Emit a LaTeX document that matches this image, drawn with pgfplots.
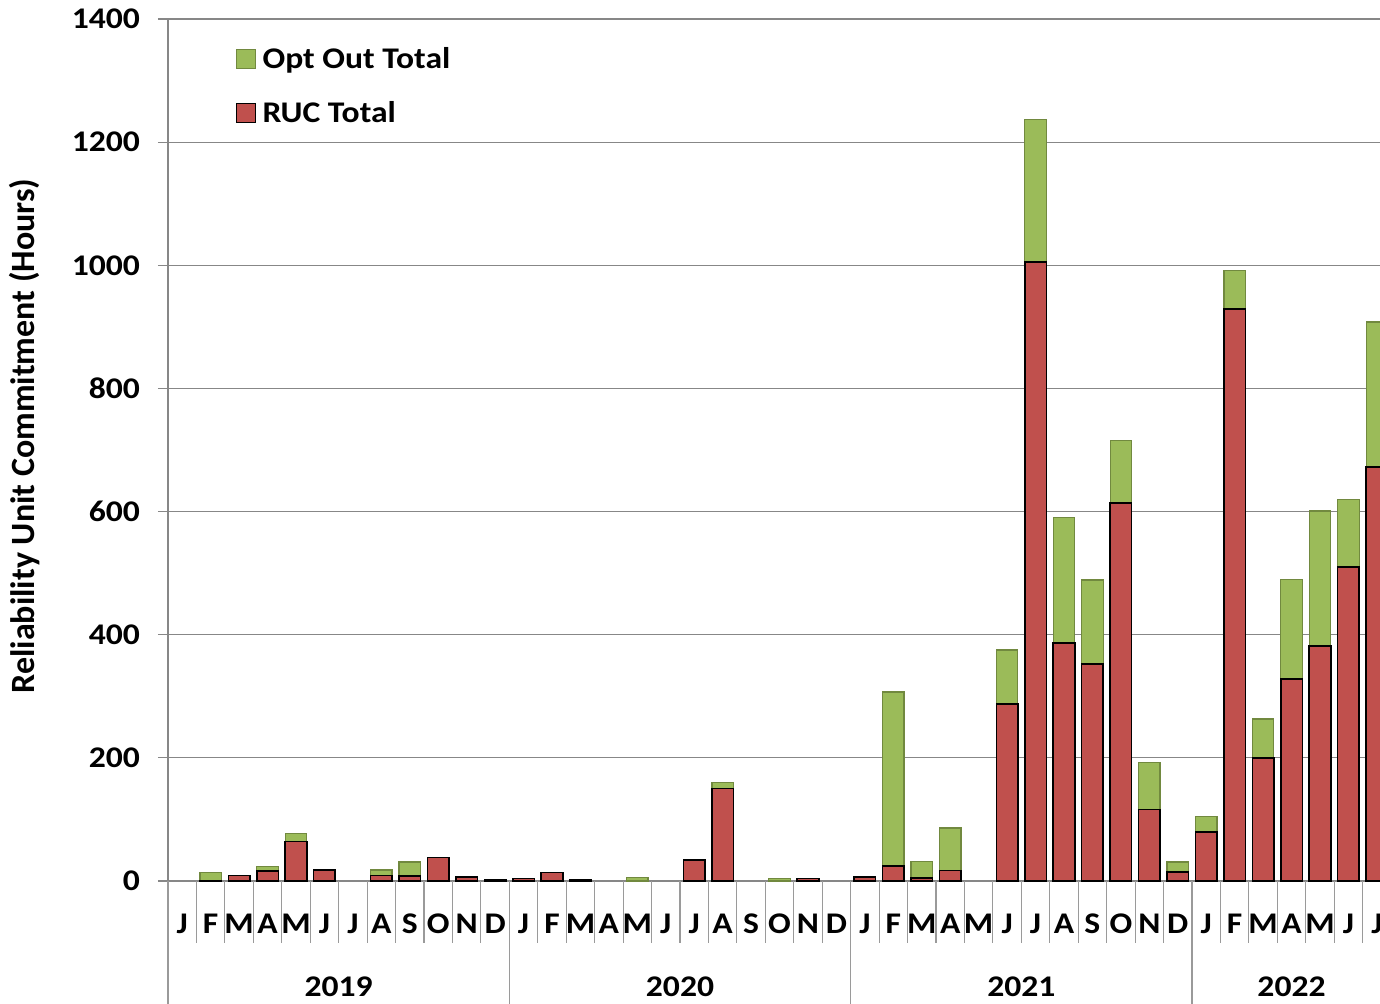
\documentclass[border=0pt]{standalone}
\usepackage{fontspec}
\setmainfont{Carlito}[FakeStretch=1.12]
\newfontfamily\ylabfont{Carlito}
\usepackage{pgfplots}
\usepackage{pgfplotstable}
\pgfplotsset{compat=1.18}
\definecolor{rucred}{HTML}{C0504D}
\definecolor{optgreen}{HTML}{9BBB59}
\definecolor{optborder}{HTML}{71893F}
\definecolor{gridgray}{HTML}{878787}
\definecolor{sepgray}{HTML}{9A9A9A}
\newcommand\lab{\fontsize{15pt}{18pt}\selectfont\bfseries}
% idx = month index from Jan 2019; ruc = RUC Total; opt = Opt Out Total (hours)
\pgfplotstableread{
idx ruc opt
0 0 0
1 1 13
2 9 0
3 16 7
4 64 13
5 18 0
6 0 0
7 9 9
8 8 23
9 38 0
10 6 0
11 2 0
12 4 0
13 14 0
14 2 0
15 0 0
16 0 6
17 0 0
18 34 0
19 150 10
20 0 0
21 0 4
22 4 0
23 0 0
24 6 0
25 24 283
26 5 27
27 17 69
28 0 0
29 287 88
30 1005 232
31 387 203
32 352 137
33 614 102
34 116 76
35 15 16
36 80 25
37 929 63
38 200 63
39 328 162
40 382 219
41 510 109
42 672 236
}\data
\begin{document}
\begin{tikzpicture}
\path[use as bounding box] (-84pt,-61.5pt) rectangle (606pt,440.5pt);
\begin{axis}[
  at={(0,0)}, anchor=south west,
  scale only axis, width=606pt, height=431pt,
  xmin=-0.5, xmax=42.11, ymin=0, ymax=1400,
  clip=false,
  axis x line*=bottom, axis y line*=left,
  axis line style={gridgray, line width=0.7pt},
  ytick={0,200,...,1400},
  ymajorgrids, grid style={gridgray, line width=0.6pt},
  tick align=outside, major tick length=5pt,
  y tick style={gridgray, line width=0.6pt},
  x tick style={draw=none},
  xtick={0,...,42},
  xticklabels={J,F,M,A,M,J,J,A,S,O,N,D,J,F,M,A,M,J,J,A,S,O,N,D,J,F,M,A,M,J,J,A,S,O,N,D,J,F,M,A,M,J,J},
  xticklabel style={font=\lab, anchor=center, yshift=-16.5pt},
  yticklabel style={font=\lab, xshift=-5.5pt},
  /pgf/number format/assume math mode=true,
  /pgf/number format/1000 sep={},
  ylabel={Reliability Unit Commitment (Hours)},
  every axis y label/.style={at={(axis description cs:0,0.5162)}, xshift=-71.5pt, rotate=90, anchor=center, font=\ylabfont\fontsize{17pt}{20pt}\selectfont\bfseries},
  legend style={at={(axis description cs:0.0559,0.968)}, anchor=north west, draw=none, fill=none, inner sep=0pt, font=\lab, row sep=15pt, column sep=3.3pt, nodes={inner sep=0pt}},
  legend cell align=left,
]
\addplot[ybar, bar width=10.75pt, bar shift=0pt, fill=optgreen, draw=optborder, line width=0.6pt,
  restrict y to domain=0.5:5000,
  legend image code/.code={\draw[fill=optgreen, draw=optborder, line width=0.6pt] (0pt,-4.65pt) rectangle (9.3pt,4.65pt);}]
  table[x=idx, y expr=\thisrow{ruc}+\thisrow{opt}] {\data};
\addlegendentry{Opt Out Total}
\addplot[ybar, bar width=10.75pt, bar shift=0pt, fill=rucred, draw=black, line width=0.8pt,
  restrict y to domain=0.5:5000,
  legend image code/.code={\draw[fill=rucred, draw=black, line width=0.6pt] (0pt,-4.65pt) rectangle (9.3pt,4.65pt);}]
  table[x=idx, y=ruc] {\data};
\addlegendentry{RUC Total}
% month separators
\pgfplotsinvokeforeach{0.5,1.5,...,42.5}{\draw[sepgray, line width=0.6pt] (axis cs:#1,0) -- ++(0pt,-31pt);}
% year separators
\pgfplotsinvokeforeach{-0.5,11.5,23.5,35.5}{\draw[sepgray, line width=0.7pt] (axis cs:#1,0) -- ++(0pt,-62pt);}
\node[font=\lab] at ([yshift=-53pt]axis cs:5.5,0) {2019};
\node[font=\lab] at ([yshift=-53pt]axis cs:17.5,0) {2020};
\node[font=\lab] at ([yshift=-53pt]axis cs:29.5,0) {2021};
\node[font=\lab] at ([yshift=-53pt]axis cs:39,0) {2022};
\end{axis}
\end{tikzpicture}
\end{document}
